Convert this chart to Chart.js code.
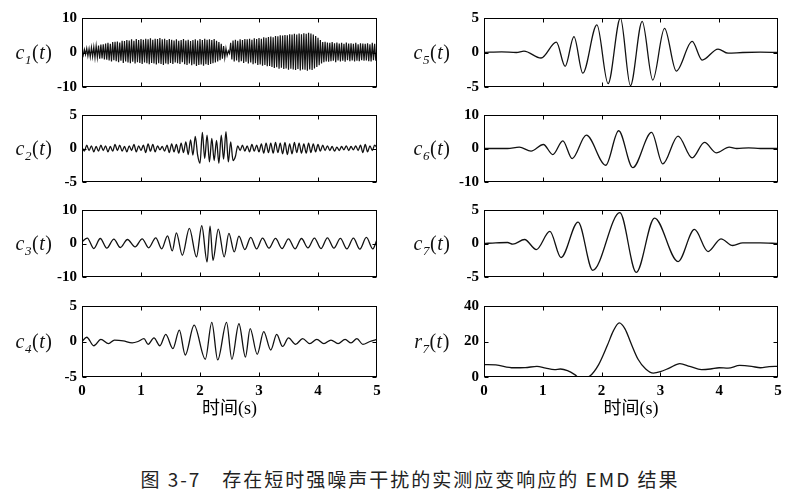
<!DOCTYPE html>
<html>
<head>
<meta charset="utf-8">
<script src="https://cdn.jsdelivr.net/npm/chart.js@4.4.0/dist/chart.umd.min.js"></script>
<style>
  body { margin: 0; background: #fff; width: 792px; height: 497px; position: relative; overflow: hidden; }
  canvas { position: absolute; }
  #caption { position: absolute; left: 0; width: 820px; top: 465px; text-align: center;
             font: 19px 'Noto Sans CJK SC', sans-serif; color: #222; letter-spacing: 2px; }
</style>
</head>
<body>
<div id="caption">图 3-7　存在短时强噪声干扰的实测应变响应的 EMD 结果</div>
<script>
// --- data ---
const xTicks = [0, 1, 2, 3, 4, 5];

// c1: dense high-frequency component, sampled every 0.02 s
const c1Step = 0.02;
const c1Vals = [
  0.3,-0.8,0.9,-0.6,1.2,-1.0,1.1,-1.3,1.5,-1.2,
  1.6,-1.5,1.9,-1.4,2.0,-1.8,2.3,-1.7,2.4,-2.0,
  2.6,-2.1,2.8,-2.3,2.5,-2.6,3.0,-2.2,3.1,-2.5,
  3.2,-2.8,2.9,-2.4,3.4,-3.0,3.3,-2.6,3.6,-2.9,
  3.5,-3.1,3.8,-2.7,3.4,-3.2,3.9,-2.8,3.6,-3.0,
  3.9,-3.3,3.7,-2.9,4.0,-3.1,3.8,-3.4,4.1,-3.0,
  3.7,-3.2,4.0,-3.5,3.9,-3.1,4.2,-3.3,3.8,-3.6,
  4.0,-3.2,3.6,-3.4,3.9,-3.0,3.7,-3.3,3.5,-2.9,
  3.8,-3.1,3.4,-3.3,3.6,-2.8,3.9,-3.4,3.5,-3.6,
  3.7,-3.2,3.3,-3.7,3.6,-3.4,3.8,-3.9,3.5,-3.6,
  3.9,-3.5,3.6,-3.8,4.0,-3.4,3.7,-3.6,3.8,-3.3,
  3.6,-3.1,3.9,-2.9,3.4,-2.6,3.0,-2.2,2.5,-1.8,
  1.9,-1.5,1.2,-0.9,0.5,-0.3,2.8,-2.0,3.5,-2.6,
  3.7,-2.3,3.4,-2.8,3.8,-2.5,3.6,-3.0,3.9,-2.7,
  3.8,-3.2,4.0,-2.9,3.7,-3.4,4.1,-3.1,3.9,-3.6,
  4.2,-3.5,4.0,-3.8,4.4,-3.6,4.3,-4.0,4.5,-3.9,
  4.6,-4.2,4.4,-4.5,4.8,-4.3,4.7,-4.7,5.0,-4.4,
  4.9,-4.8,5.1,-4.6,5.0,-5.0,5.3,-4.7,5.2,-4.9,
  5.4,-5.1,5.2,-4.8,5.5,-5.2,5.3,-4.9,5.6,-5.0,
  5.4,-5.3,5.7,-4.9,5.5,-5.1,5.2,-4.6,4.8,-4.2,
  4.3,-3.7,3.6,-3.2,3.0,-2.8,3.1,-2.6,2.9,-2.7,
  2.8,-2.5,3.0,-2.4,2.7,-2.8,2.9,-2.3,2.6,-2.6,
  2.8,-2.4,2.5,-2.7,2.9,-2.2,2.6,-2.5,2.7,-2.3,
  2.5,-2.6,2.8,-2.4,2.4,-2.5,2.7,-2.2,2.6,-2.4,
  2.5,-2.3,2.7,-2.5,2.4,-2.6,2.8,-2.2,2.5,-2.4,1.5
];

// c2: sampled every 0.04 s
const c2Step = 0.04;
const c2Vals = [
  0.2,-0.4,0.5,-0.3,0.4,-0.5,0.3,-0.4,0.5,-0.3,
  0.4,-0.5,0.3,-0.4,0.6,-0.3,0.5,-0.4,0.3,-0.5,
  0.4,-0.3,0.6,-0.5,0.4,-0.3,0.5,-0.6,0.7,-0.4,
  0.6,-0.5,0.4,-0.2,0.3,-0.4,0.5,-0.6,0.7,-0.5,
  0.6,-0.7,0.8,-0.6,1.0,-0.9,1.3,-1.0,
  1.8,-1.0,-2.2,2.4,-1.5,2.0,-2.0,1.5,-1.8,1.2,
  -2.2,2.0,-1.6,2.5,-2.0,1.0,-1.8,-1.2,0.4,-0.3,
  0.5,-0.4,0.4,-0.5,0.6,-0.4,0.5,
  -0.5,0.7,-0.7,0.8,-0.6,0.8,-0.7,0.9,-0.6,0.8,
  -0.8,0.9,-0.9,0.7,-0.8,0.9,-0.6,0.8,-0.7,0.7,
  -0.7,0.8,-0.6,0.7,-0.5,0.6,-0.4,0.5,-0.3,0.4,
  -0.3,0.3,-0.4,0.2,-0.3,0.3,-0.2,0.4,-0.3,0.3,
  -0.2,0.4,-0.3,0.5,-0.6,0.6,-0.5,0.4,-0.3,0.5,0.1
];

// c3..r7: turning points (time s, value)
const c3T = [0,0.09,0.2,0.31,0.42,0.54,0.65,0.77,0.9,1.02,1.13,1.25,1.35,1.45,1.53,1.6,1.7,1.82,1.94,2.03,2.12,2.17,2.22,2.31,2.41,2.49,2.58,2.66,2.76,2.86,2.96,3.06,3.17,3.28,3.39,3.5,3.61,3.72,3.83,3.94,4.05,4.16,4.27,4.38,4.49,4.6,4.71,4.82,4.93,5.0];
const c3V = [0.5,1.6,-1.5,1.5,-1.4,1.3,-1.2,1.2,-1.0,1.4,-1.3,1.7,-1.6,2.3,-2.2,3.2,-3.5,4.5,-4.0,5.3,-5.5,5.2,-5.0,4.3,-4.0,3.0,-2.5,2.2,-1.8,1.8,-1.6,1.6,-1.4,1.5,-1.5,1.4,-1.6,1.5,-1.3,1.6,-1.5,1.7,-1.4,1.5,-1.6,1.6,-1.7,1.8,-1.6,1.2];

const c4T = [0,0.08,0.2,0.32,0.45,0.55,0.7,0.85,0.95,1.05,1.12,1.22,1.32,1.42,1.54,1.65,1.75,1.9,2.09,2.2,2.3,2.45,2.54,2.66,2.77,2.85,2.97,3.08,3.2,3.3,3.4,3.5,3.62,3.74,3.86,3.98,4.1,4.22,4.34,4.46,4.56,4.66,4.76,4.88,5.0];
const c4V = [0,0.6,-0.6,0.3,-0.3,0.2,0.1,-0.2,0.0,0.4,-0.4,0.5,-0.6,1.0,-1.0,1.6,-1.9,2.3,-2.5,2.7,-2.6,2.7,-2.5,2.5,-2.2,1.8,-1.8,1.4,-1.2,1.0,-0.7,0.5,-0.4,0.4,-0.3,0.3,-0.3,0.2,-0.3,0.3,-0.2,0.4,-0.4,0.0,0.3];

const c5T = [0,0.3,0.55,0.68,0.97,1.23,1.38,1.53,1.68,1.92,2.11,2.32,2.49,2.69,2.87,3.07,3.27,3.54,3.71,3.98,4.15,4.4,4.7,5.0];
const c5V = [0,0.1,0.0,0.2,-0.8,1.5,-2.0,2.3,-3.0,4.0,-4.5,5.0,-4.8,4.5,-4.0,3.5,-2.7,1.6,-1.1,0.5,-0.1,0.0,0.05,0];

const c6T = [0,0.4,0.6,0.8,1.01,1.17,1.34,1.5,1.74,2.07,2.29,2.53,2.85,3.04,3.3,3.54,3.75,3.95,4.17,4.3,4.5,4.7,5.0];
const c6V = [0,0,0.4,-0.8,1.2,-1.8,2.3,-3.0,4.0,-5.0,5.3,-5.7,4.8,-4.6,3.7,-2.8,1.8,-1.3,0.4,0.0,0.2,0.0,0];

const c7T = [0,0.2,0.4,0.49,0.69,0.89,1.12,1.31,1.6,1.85,2.31,2.59,2.9,3.3,3.58,3.81,4.03,4.23,4.4,4.7,5.0];
const c7V = [0,0.1,0.15,-0.1,0.6,-0.9,1.8,-2.1,3.2,-4.0,4.6,-4.3,3.8,-2.7,2.1,-1.2,0.7,-0.3,0.1,0.1,0];

const r7T = [0,0.2,0.5,0.7,0.9,1.05,1.2,1.3,1.42,1.55,1.62,1.72,1.8,1.95,2.1,2.2,2.3,2.4,2.5,2.62,2.75,2.88,3.0,3.15,3.33,3.5,3.7,3.85,4.0,4.15,4.35,4.55,4.7,4.85,5.0];
const r7V = [7,6.8,5.2,5.3,6.0,5.0,4.2,4.5,3.6,1.2,-0.5,-0.5,0.5,7,18,26,30.5,27,19,10,4.5,2.2,3.0,5.0,7.5,6.0,4.2,4.5,5.2,5.0,6.5,6.0,5.2,5.8,6.0];

// --- layout ---
const cols = [
  { cl: 0,   cw: 400, left: 82,  right: 377, labX: 34 },
  { cl: 400, cw: 392, left: 484, right: 778, labX: 432 }
];
const rows = [[14, 91], [111, 186], [206, 281], [302, 377]];
const axisBottom = 420;

function uniform(vals, step) {
  return vals.map((v, i) => ({ x: +(i * step).toFixed(3), y: v }));
}
function pairs(ts, vs) {
  return ts.map((t, i) => ({ x: t, y: vs[i] }));
}

const panels = [
  { col: 0, row: 0, pts: uniform(c1Vals, c1Step), min: -10, max: 10, step: 10, name: 'c', sub: '1', smooth: false },
  { col: 0, row: 1, pts: uniform(c2Vals, c2Step), min: -5, max: 5, step: 5, name: 'c', sub: '2', smooth: true },
  { col: 0, row: 2, pts: pairs(c3T, c3V), min: -10, max: 10, step: 10, name: 'c', sub: '3', smooth: true },
  { col: 0, row: 3, pts: pairs(c4T, c4V), min: -5, max: 5, step: 5, name: 'c', sub: '4', smooth: true },
  { col: 1, row: 0, pts: pairs(c5T, c5V), min: -5, max: 5, step: 5, name: 'c', sub: '5', smooth: true },
  { col: 1, row: 1, pts: pairs(c6T, c6V), min: -10, max: 10, step: 10, name: 'c', sub: '6', smooth: true },
  { col: 1, row: 2, pts: pairs(c7T, c7V), min: -5, max: 5, step: 5, name: 'c', sub: '7', smooth: true },
  { col: 1, row: 3, pts: pairs(r7T, r7V), min: 0, max: 40, step: 20, name: 'r', sub: '7', smooth: true }
];

const serif = "'Liberation Serif', 'Times New Roman', 'DejaVu Serif', serif";

// box, inward ticks and the c_i(t) label
function framePlugin(p, col) {
  return {
    id: 'frame',
    afterDraw(chart) {
      const { ctx, chartArea: a, scales: { x, y } } = chart;
      ctx.save();
      ctx.strokeStyle = '#000';
      ctx.lineWidth = 1;
      const L = Math.round(a.left) + 0.5, T = Math.round(a.top) + 0.5;
      const R = Math.round(a.right) - 0.5, B = Math.round(a.bottom) - 0.5;
      ctx.strokeRect(L, T, R - L, B - T);
      ctx.beginPath();
      xTicks.slice(1, -1).forEach(v => {
        const px = Math.round(x.getPixelForValue(v)) + 0.5;
        ctx.moveTo(px, T); ctx.lineTo(px, T + 4);
        ctx.moveTo(px, B); ctx.lineTo(px, B - 4);
      });
      y.ticks.forEach(t => {
        const py = Math.round(y.getPixelForValue(t.value)) + 0.5;
        ctx.moveTo(L, py); ctx.lineTo(L + 4, py);
        ctx.moveTo(R, py); ctx.lineTo(R - 4, py);
      });
      ctx.stroke();

      // axis label, e.g. c1(t) with subscript
      const parts = [
        { s: p.name, f: 'italic 20px ' + serif, dy: 0 },
        { s: p.sub, f: 'italic 13px ' + serif, dy: 5 },
        { s: '(', f: '20px ' + serif, dy: 0 },
        { s: 't', f: 'italic 20px ' + serif, dy: 0 },
        { s: ')', f: '20px ' + serif, dy: 0 }
      ];
      let w = 0;
      parts.forEach(q => { ctx.font = q.f; q.w = ctx.measureText(q.s).width; w += q.w + 0.5; });
      let cx = col.labX - col.cl - w / 2;
      const base = (a.top + a.bottom) / 2 + 6;
      ctx.fillStyle = '#111';
      ctx.textBaseline = 'alphabetic';
      parts.forEach(q => { ctx.font = q.f; ctx.fillText(q.s, cx, base + q.dy); cx += q.w + 0.5; });
      ctx.restore();
    }
  };
}

panels.forEach(p => {
  const col = cols[p.col];
  const [bt, bb] = rows[p.row];
  const bottomRow = p.row === 3;
  const top = bt - 10;
  const height = bottomRow ? axisBottom - top : (bb - bt) + 20;

  const cv = document.createElement('canvas');
  cv.width = col.cw; cv.height = height;
  cv.style.left = col.cl + 'px'; cv.style.top = top + 'px';
  cv.style.width = col.cw + 'px'; cv.style.height = height + 'px';
  document.body.appendChild(cv);

  const xScale = {
    type: 'linear', min: 0, max: 5,
    display: bottomRow,
    afterBuildTicks: s => { s.ticks = xTicks.map(v => ({ value: v })); },
    grid: { display: false, drawTicks: false },
    border: { display: false },
    ticks: { padding: 5, color: '#000', maxRotation: 0, font: { family: serif, size: 15, weight: 'bold' } },
    title: {
      display: true, text: '时间(s)', color: '#000',
      padding: { top: 0, bottom: 0 },
      font: { family: "'Liberation Serif', 'Noto Sans CJK SC', serif", size: 18 }
    }
  };
  if (bottomRow) xScale.afterFit = s => { s.height = axisBottom - bb; };

  new Chart(cv, {
    type: 'line',
    data: {
      datasets: [{
        data: p.pts,
        borderColor: '#111',
        borderWidth: p.smooth ? 1.3 : 1.2,
        pointRadius: 0,
        tension: 0,
        cubicInterpolationMode: p.smooth ? 'monotone' : 'default',
        fill: false
      }]
    },
    options: {
      responsive: false,
      animation: false,
      events: [],
      layout: { padding: { left: 0, right: col.cl + col.cw - col.right, top: 10, bottom: bottomRow ? 0 : 10 } },
      plugins: { legend: { display: false }, tooltip: { enabled: false } },
      scales: {
        x: xScale,
        y: {
          min: p.min, max: p.max,
          afterFit: s => { s.width = col.left - col.cl; },
          grid: { display: false, drawTicks: false },
          border: { display: false },
          ticks: { stepSize: p.step, padding: 5, color: '#000', font: { family: serif, size: 15, weight: 'bold' } }
        }
      }
    },
    plugins: [framePlugin(p, col)]
  });
});
</script>
</body>
</html>
